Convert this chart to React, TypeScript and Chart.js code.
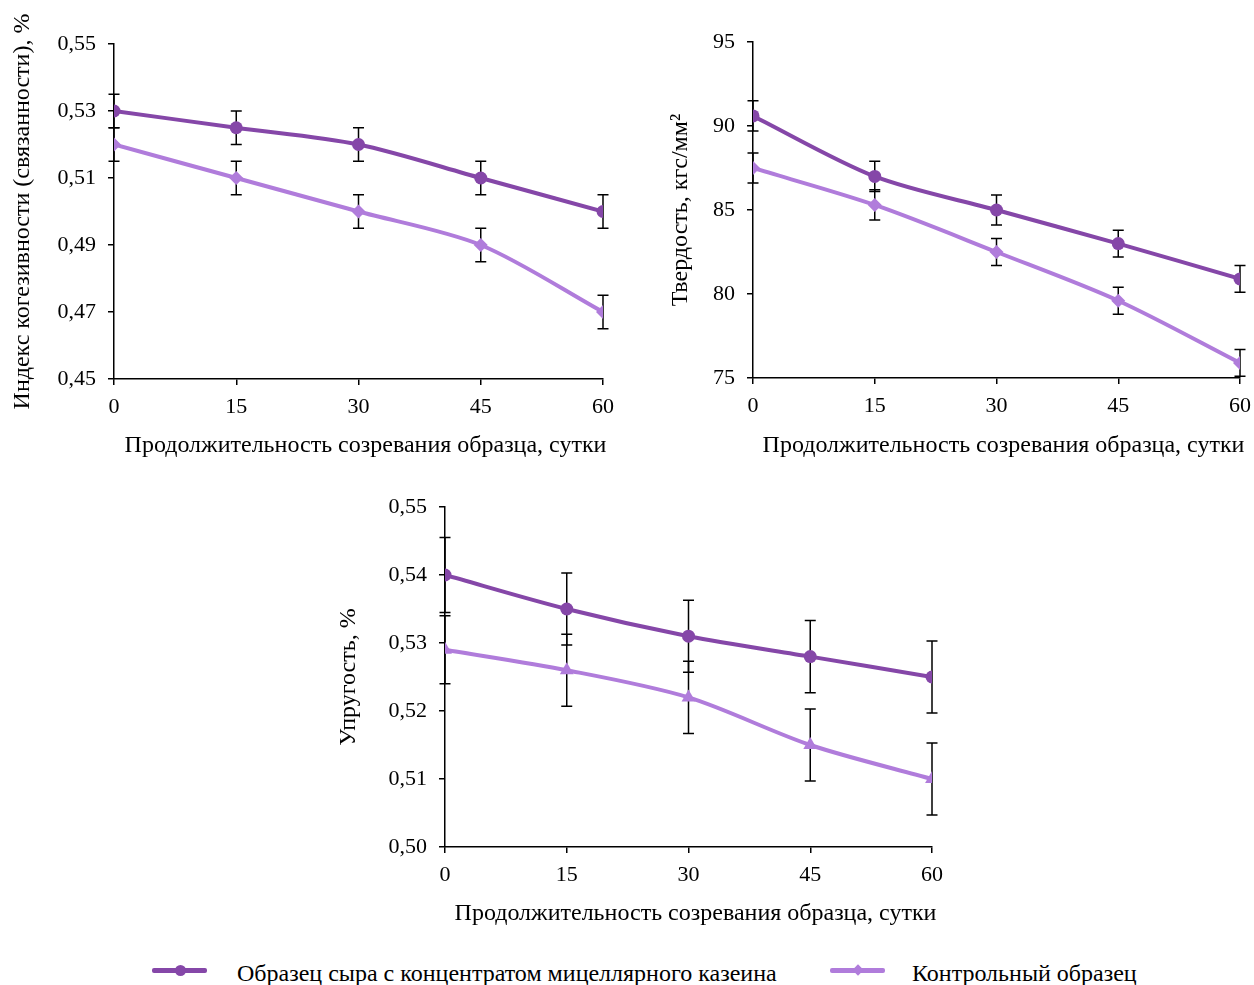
import React, { useEffect, useRef } from "react";
import { Chart, registerables } from "chart.js";

Chart.register(...registerables);

const days = [0, 15, 30, 45, 60];

const cohesionMain = [0.53, 0.525, 0.52, 0.51, 0.5];
const cohesionControl = [0.52, 0.51, 0.5, 0.49, 0.47];
const cohesionErrMain = [0.005, 0.005, 0.005, 0.005, 0.005];
const cohesionErrControl = [0.005, 0.005, 0.005, 0.005, 0.005];

const hardnessMain = [90.6, 87.0, 85.0, 83.0, 80.9];
const hardnessControl = [87.5, 85.3, 82.5, 79.6, 75.9];
const hardnessErrMain = [0.9, 0.9, 0.9, 0.8, 0.8];
const hardnessErrControl = [0.9, 0.9, 0.8, 0.8, 0.8];

const elasticMain = [0.54, 0.535, 0.531, 0.528, 0.525];
const elasticControl = [0.529, 0.526, 0.522, 0.515, 0.51];
const elasticErrMain = [0.0055, 0.0053, 0.0053, 0.0053, 0.0053];
const elasticErrControl = [0.005, 0.0053, 0.0053, 0.0053, 0.0053];

const seriesNames = ["Образец сыра с концентратом мицеллярного казеина", "Контрольный образец"];
const xTitle = "Продолжительность созревания образца, сутки";

const DARK = "#8547A8";
const LIGHT = "#B07CDB";
const FONT = "'Liberation Serif', 'Times New Roman', serif";

const errorBarsPlugin = {
  id: "errorBars",
  beforeDatasetsDraw(chart: any) {
    const errs = chart.options.plugins.errorBars?.errors as number[][];
    if (!errs) return;
    const ctx = chart.ctx;
    const xs = chart.scales.x;
    const ys = chart.scales.y;
    ctx.save();
    ctx.strokeStyle = "#000";
    ctx.lineWidth = 1.5;
    chart.data.datasets.forEach((ds: any, di: number) => {
      ds.data.forEach((pt: any, i: number) => {
        const e = errs[di][i];
        const x = xs.getPixelForValue(pt.x);
        const y1 = ys.getPixelForValue(pt.y + e);
        const y2 = ys.getPixelForValue(pt.y - e);
        ctx.beginPath();
        ctx.moveTo(x, y1);
        ctx.lineTo(x, y2);
        ctx.moveTo(x - 5.5, y1);
        ctx.lineTo(x + 5.5, y1);
        ctx.moveTo(x - 5.5, y2);
        ctx.lineTo(x + 5.5, y2);
        ctx.stroke();
      });
    });
    ctx.restore();
  },
};

// x-axis title, centred slightly right of the plot centre as in the source figure
const xTitlePlugin = {
  id: "xTitle",
  afterDraw(chart: any) {
    const opt = chart.options.plugins.xTitle;
    if (!opt) return;
    const ctx = chart.ctx;
    const area = chart.chartArea;
    ctx.save();
    ctx.fillStyle = "#000";
    ctx.font = `24px ${FONT}`;
    ctx.textAlign = "center";
    ctx.textBaseline = "middle";
    ctx.fillText(opt.text, (area.left + area.right) / 2 + opt.dx, opt.y);
    ctx.restore();
  },
};

type Cfg = {
  main: number[];
  control: number[];
  errMain: number[];
  errControl: number[];
  controlStyle: string;
  yMin: number;
  yMax: number;
  yStep: number;
  decimals: number;
  yTitle: string;
  padding: { left: number; right: number; top: number; bottom: number };
  yWidth: number;
  xHeight: number;
  xTitleY: number;
};

function makeConfig(c: Cfg): any {
  const toPts = (arr: number[]) => arr.map((v, i) => ({ x: days[i], y: v }));
  return {
    type: "line",
    data: {
      datasets: [
        {
          label: seriesNames[0],
          data: toPts(c.main),
          borderColor: DARK,
          backgroundColor: DARK,
          borderWidth: 4,
          pointStyle: "circle",
          pointRadius: 6.5,
          pointBorderWidth: 0,
          tension: 0.3,
        },
        {
          label: seriesNames[1],
          data: toPts(c.control),
          borderColor: LIGHT,
          backgroundColor: LIGHT,
          borderWidth: 4,
          pointStyle: c.controlStyle,
          pointRadius: c.controlStyle === "triangle" ? 8 : 7,
          pointBorderWidth: 0,
          tension: 0.3,
        },
      ],
    },
    options: {
      animation: false,
      responsive: false,
      maintainAspectRatio: false,
      layout: { padding: c.padding },
      plugins: {
        legend: { display: false },
        tooltip: { enabled: false },
        errorBars: { errors: [c.errMain, c.errControl] },
        xTitle: { text: xTitle, dx: 7, y: c.xTitleY },
      },
      scales: {
        x: {
          type: "linear",
          min: 0,
          max: 60,
          afterFit: (s: any) => {
            s.height = c.xHeight;
          },
          ticks: {
            stepSize: 15,
            color: "#000",
            padding: 9,
            maxRotation: 0,
            font: { family: FONT, size: 22 },
          },
          grid: {
            display: true,
            drawOnChartArea: false,
            drawTicks: true,
            tickLength: 6,
            color: "#000",
            lineWidth: 1.5,
          },
          border: { display: true, color: "#000", width: 1.5 },
          title: { display: false },
        },
        y: {
          min: c.yMin,
          max: c.yMax,
          afterFit: (s: any) => {
            s.width = c.yWidth;
          },
          ticks: {
            stepSize: c.yStep,
            color: "#000",
            padding: 12,
            font: { family: FONT, size: 22 },
            callback: (v: number) => v.toFixed(c.decimals).replace(".", ","),
          },
          grid: {
            display: true,
            drawOnChartArea: false,
            drawTicks: true,
            tickLength: 6,
            color: "#000",
            lineWidth: 1.5,
          },
          border: { display: true, color: "#000", width: 1.5 },
          title: {
            display: true,
            text: c.yTitle,
            color: "#000",
            font: { family: FONT, size: 24 },
            padding: { top: 0, bottom: 0 },
          },
        },
      },
    },
    plugins: [errorBarsPlugin, xTitlePlugin],
  };
}

function ChartBox(props: { left: number; top: number; width: number; height: number; cfg: Cfg }) {
  const ref = useRef<HTMLCanvasElement>(null);
  useEffect(() => {
    if (!ref.current) return;
    const chart = new Chart(ref.current, makeConfig(props.cfg));
    return () => chart.destroy();
  }, []);
  return (
    <div style={{ position: "absolute", left: props.left, top: props.top, width: props.width, height: props.height }}>
      <canvas ref={ref} width={props.width} height={props.height} style={{ width: props.width, height: props.height }} />
    </div>
  );
}

function LegendItem(props: { left: number; color: string; marker: "circle" | "diamond"; text: string; gap: number }) {
  return (
    <div style={{ position: "absolute", left: props.left, top: 956, height: 34, display: "flex", alignItems: "center" }}>
      <div style={{ position: "relative", width: 55, height: 34 }}>
        <div style={{ position: "absolute", left: 0, top: 12, width: 55, height: 5, background: props.color, borderRadius: 2 }} />
        {props.marker === "circle" ? (
          <div style={{ position: "absolute", left: 23, top: 9, width: 11, height: 11, borderRadius: "50%", background: props.color }} />
        ) : (
          <div style={{ position: "absolute", left: 24, top: 10, width: 8, height: 8, transform: "rotate(45deg)", background: props.color }} />
        )}
      </div>
      <span style={{ marginLeft: props.gap, fontFamily: FONT, fontSize: 24, color: "#000", whiteSpace: "nowrap" }}>{props.text}</span>
    </div>
  );
}

export default function App() {
  const c1: Cfg = {
    main: cohesionMain,
    control: cohesionControl,
    errMain: cohesionErrMain,
    errControl: cohesionErrControl,
    controlStyle: "rectRot",
    yMin: 0.45,
    yMax: 0.55,
    yStep: 0.02,
    decimals: 2,
    yTitle: "Индекс когезивности (связанности), %",
    padding: { left: 8, right: 37, top: 44, bottom: 0 },
    yWidth: 106,
    xHeight: 91,
    xTitleY: 446,
  };
  const c2: Cfg = {
    main: hardnessMain,
    control: hardnessControl,
    errMain: hardnessErrMain,
    errControl: hardnessErrControl,
    controlStyle: "rectRot",
    yMin: 75,
    yMax: 95,
    yStep: 5,
    decimals: 0,
    yTitle: "Твердость, кгс/мм²",
    padding: { left: 26, right: 22, top: 42, bottom: 0 },
    yWidth: 87,
    xHeight: 92,
    xTitleY: 446,
  };
  const c3: Cfg = {
    main: elasticMain,
    control: elasticControl,
    errMain: elasticErrMain,
    errControl: elasticErrControl,
    controlStyle: "triangle",
    yMin: 0.5,
    yMax: 0.55,
    yStep: 0.01,
    decimals: 2,
    yTitle: "Упругость, %",
    padding: { left: 14, right: 28, top: 37, bottom: 0 },
    yWidth: 111,
    xHeight: 93,
    xTitleY: 444,
  };
  return (
    <div style={{ position: "absolute", left: 0, top: 0, width: 1254, height: 985, background: "#fff", overflow: "hidden" }}>
      <ChartBox left={0} top={0} width={640} height={470} cfg={c1} />
      <ChartBox left={640} top={0} width={622} height={470} cfg={c2} />
      <ChartBox left={320} top={470} width={640} height={470} cfg={c3} />
      <LegendItem left={152} color={DARK} marker="circle" text={seriesNames[0]} gap={30} />
      <LegendItem left={830} color={LIGHT} marker="diamond" text={seriesNames[1]} gap={27} />
    </div>
  );
}
